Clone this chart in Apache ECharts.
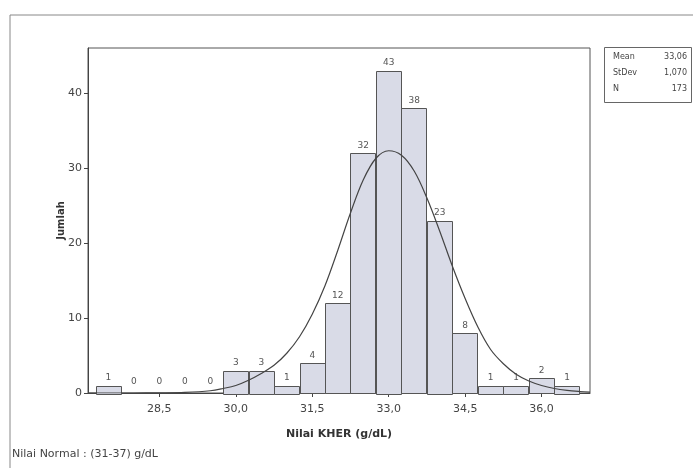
<!DOCTYPE html>
<html>
<head>
<meta charset="utf-8">
<script src="https://cdn.jsdelivr.net/npm/echarts@6/dist/echarts.min.js"></script>
<style>
  html, body { margin: 0; padding: 0; background: #ffffff; }
  #chart { width: 693px; height: 468px; }
</style>
</head>
<body>
<div id="chart"></div>
<script>
// Histogram of KHER values (bin width 0,5 g/dL)
const binCenters = [27.5, 28.0, 28.5, 29.0, 29.5, 30.0, 30.5, 31.0, 31.5, 32.0, 32.5, 33.0, 33.5, 34.0, 34.5, 35.0, 35.5, 36.0, 36.5];
const counts     = [1, 0, 0, 0, 0, 3, 3, 1, 4, 12, 32, 43, 38, 23, 8, 1, 1, 2, 1];
const binWidth = 0.5;

// Fitted normal curve, points along the axis
const curveX = [27.1, 28.0, 28.5, 29.0, 29.5, 29.75, 30.0, 30.25, 30.5, 30.75, 31.0, 31.25, 31.5, 31.75, 32.0, 32.25, 32.5, 32.75, 33.0, 33.25, 33.5, 33.75, 34.0, 34.25, 34.5, 34.75, 35.0, 35.25, 35.5, 35.75, 36.0, 36.25, 36.5, 36.75, 36.95];
const curveY = [0.0, 0.0, 0.02, 0.08, 0.3, 0.6, 1.0, 1.7, 2.6, 3.7, 5.3, 7.5, 10.5, 14.3, 19.0, 24.0, 28.4, 31.3, 32.3, 31.7, 29.6, 26.0, 21.6, 16.9, 12.6, 8.8, 5.8, 3.9, 2.5, 1.6, 1.0, 0.6, 0.35, 0.2, 0.12];

// Axis ticks
const xTicks = [28.5, 30.0, 31.5, 33.0, 34.5, 36.0];
const yTicks = [0, 10, 20, 30, 40];

// Summary statistics
const statNames  = ['Mean', 'StDev', 'N'];
const statValues = ['33,06', '1,070', '173'];

const FONT = 'DejaVu Sans';
const chart = echarts.init(document.getElementById('chart'), null, { renderer: 'canvas' });

const barData = binCenters.map((c, i) => [c, counts[i]]);
const curveData = curveX.map((x, i) => [x, curveY[i]]);

const statGraphics = [];
statNames.forEach((n, i) => {
  statGraphics.push({ type: 'text', left: 613, top: 53 + i * 16, style: { text: n, font: '8px ' + FONT, fill: '#444' } });
  statGraphics.push({ type: 'text', right: 6, top: 53 + i * 16, style: { text: statValues[i], font: '8px ' + FONT, fill: '#444', textAlign: 'right' } });
});

chart.setOption({
  backgroundColor: '#ffffff',
  animation: false,
  grid: { left: 88, top: 48, right: 103, bottom: 75, show: true, borderColor: '#555', borderWidth: 1, backgroundColor: 'transparent' },
  xAxis: {
    type: 'value', min: 27.1, max: 36.95,
    name: 'Nilai KHER (g/dL)', nameLocation: 'middle', nameGap: 36,
    nameTextStyle: { fontFamily: FONT, fontSize: 11, fontWeight: 'bold', color: '#333' },
    axisLine: { show: true, onZero: false, lineStyle: { color: '#444', width: 1 } },
    axisTick: { show: true, length: 4, customValues: xTicks, lineStyle: { color: '#444' } },
    axisLabel: { customValues: xTicks, margin: 11, fontFamily: FONT, fontSize: 11, color: '#444',
      formatter: v => v.toFixed(1).replace('.', ',') },
    splitLine: { show: false }
  },
  yAxis: {
    type: 'value', min: 0, max: 46,
    name: 'Jumlah', nameLocation: 'middle', nameGap: 22, nameRotate: 90, nameMoveOverlap: false,
    nameTextStyle: { fontFamily: FONT, fontSize: 10, fontWeight: 'bold', color: '#333' },
    axisLine: { show: true, lineStyle: { color: '#444', width: 1 } },
    axisTick: { show: true, length: 4, customValues: yTicks, lineStyle: { color: '#444' } },
    axisLabel: { customValues: yTicks, margin: 6, fontFamily: FONT, fontSize: 11, color: '#444' },
    splitLine: { show: false }
  },
  graphic: [
    { type: 'rect', shape: { x: 10, y: 15, width: 700, height: 470 }, style: { fill: 'none', stroke: '#888', lineWidth: 1 }, silent: true },
    { type: 'rect', shape: { x: 604.5, y: 47.5, width: 87, height: 55 }, style: { fill: '#fff', stroke: '#666', lineWidth: 1 }, silent: true },
    ...statGraphics,
    { type: 'text', left: 12, top: 449, style: { text: 'Nilai Normal : (31-37) g/dL', font: '11px ' + FONT, fill: '#444' } }
  ],
  series: [
    {
      type: 'custom',
      data: barData,
      z: 2,
      renderItem: (params, api) => {
        const c = api.value(0), v = api.value(1);
        const p0 = api.coord([c - binWidth / 2, v]);
        const p1 = api.coord([c + binWidth / 2, 0]);
        const children = [];
        if (v > 0) {
          children.push({
            type: 'rect',
            shape: { x: Math.round(p0[0]) + 0.5, y: Math.round(p0[1]) + 0.5, width: Math.round(p1[0] - p0[0]), height: Math.round(p1[1] - p0[1]) },
            style: { fill: '#d9dbe7', stroke: '#555', lineWidth: 1 }
          });
        }
        children.push({
          type: 'text',
          x: (p0[0] + p1[0]) / 2, y: p0[1] - (v > 0 ? 3 : 7),
          style: { text: String(v), font: '9px ' + FONT, fill: '#555', textAlign: 'center', textVerticalAlign: 'bottom' }
        });
        return { type: 'group', children };
      }
    },
    {
      type: 'line',
      data: curveData,
      smooth: 0.35,
      symbol: 'none',
      z: 3,
      lineStyle: { color: '#444', width: 1.2 }
    }
  ]
});
</script>
</body>
</html>
